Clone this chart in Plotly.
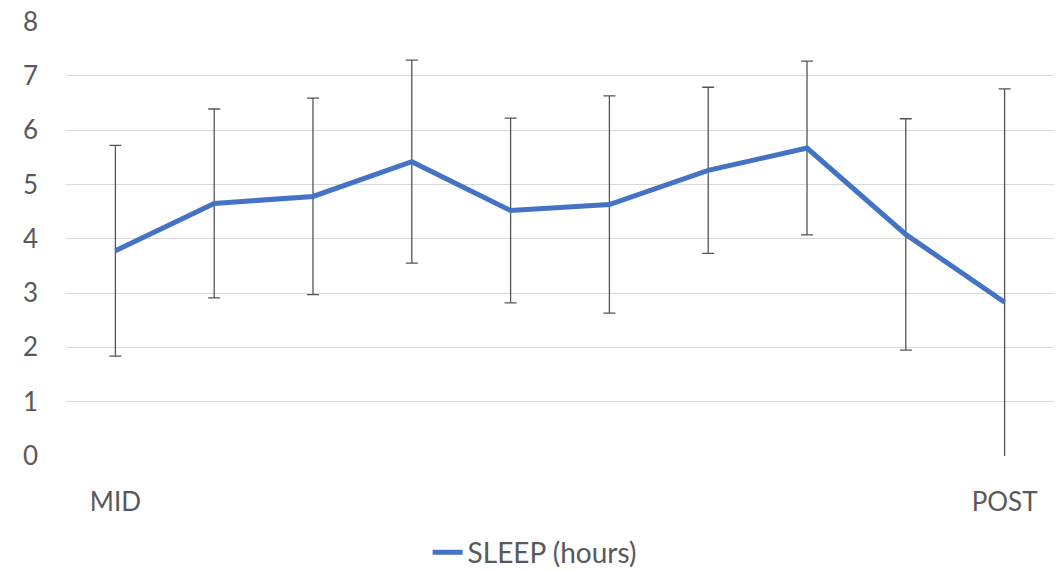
import plotly.graph_objects as go

# Data
x_labels = ["MID", "", "", "", "", "", "", "", "", "POST"]
sleep_hours = [3.78, 4.65, 4.78, 5.42, 4.52, 4.63, 5.26, 5.67, 4.08, 2.83]
sleep_err = [1.94, 1.74, 1.81, 1.87, 1.70, 2.00, 1.53, 1.60, 2.13, 3.93]
y_ticks = [0, 1, 2, 3, 4, 5, 6, 7, 8]

idx = list(range(len(sleep_hours)))

fig = go.Figure()
fig.add_trace(go.Scatter(
    x=idx,
    y=sleep_hours,
    mode="lines",
    name="SLEEP (hours)",
    line=dict(color="#4472C4", width=5),
    error_y=dict(type="data", array=sleep_err, symmetric=True,
                 color="#555555", thickness=1.3, width=6),
))

fig.update_layout(
    width=1061, height=600,
    margin=dict(l=66, r=7, t=21, b=144, autoexpand=False),
    paper_bgcolor="white", plot_bgcolor="white",
    font=dict(family="Lato, Open Sans, sans-serif", size=26, color="#595959"),
    showlegend=True,
    legend=dict(orientation="h", x=0.366, xanchor="left", y=-0.222, yanchor="middle",
                font=dict(size=28, color="#595959")),
    xaxis=dict(range=[-0.5, 9.5], tickmode="array", tickvals=idx, ticktext=x_labels,
               showgrid=False, zeroline=False, showline=False, ticks="",
               ticklabelstandoff=28, fixedrange=True, automargin=False),
    yaxis=dict(range=[0, 8.01], tickmode="array", tickvals=y_ticks,
               showgrid=True, gridcolor="#D9D9D9", gridwidth=1,
               zeroline=False, showline=False, ticks="", ticklabelstandoff=27,
               fixedrange=True, automargin=False),
)

fig.write_html(
    "out.html",
    config={"displayModeBar": False},
    post_script="document.body.style.margin='0px';document.body.style.overflow='hidden';",
)
